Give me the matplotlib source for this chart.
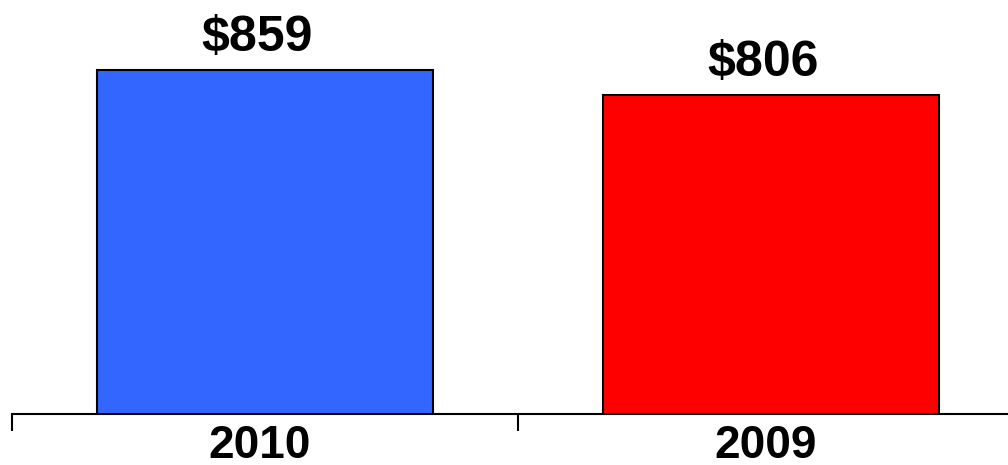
import matplotlib
matplotlib.use("Agg")
import matplotlib.pyplot as plt

categories = ["2010", "2009"]
values = [859, 806]
value_labels = ["$859", "$806"]
colors = ["#3366FF", "#FF0000"]

plt.rcParams['font.family'] = ['Liberation Sans', 'DejaVu Sans']

fig = plt.figure(figsize=(10.08, 4.65), dpi=100)
ax = fig.add_axes([12/1008, 51/465, 1012/1008, 410/465])

x = list(range(len(categories)))
ax.bar(x, values, width=0.666, color=colors, edgecolor="black", linewidth=1.5, zorder=2)

ax.set_xlim(-0.5, len(categories) - 0.5)
ax.set_ylim(130, 1000)

for xi, v, lab in zip(x, values, value_labels):
    ax.annotate(lab, (xi - 0.015, v), xytext=(0, 14), textcoords="offset points",
                ha="center", va="baseline", fontsize=36, fontweight="bold")

ax.set_xticks([xi - 0.01 for xi in x])
ax.set_xticklabels(categories, fontsize=33, fontweight="bold")
ax.tick_params(axis="x", which="major", length=0, pad=7)
ax.set_xticks([i - 0.5 for i in range(len(categories) + 1)], minor=True)
ax.tick_params(axis="x", which="minor", length=12, width=1.5, direction="out", color="black")
ax.set_yticks([])

for s in ["top", "left", "right"]:
    ax.spines[s].set_visible(False)
ax.spines["bottom"].set_linewidth(1.5)
ax.spines["bottom"].set_zorder(3)

fig.savefig("out.png", dpi=100)
